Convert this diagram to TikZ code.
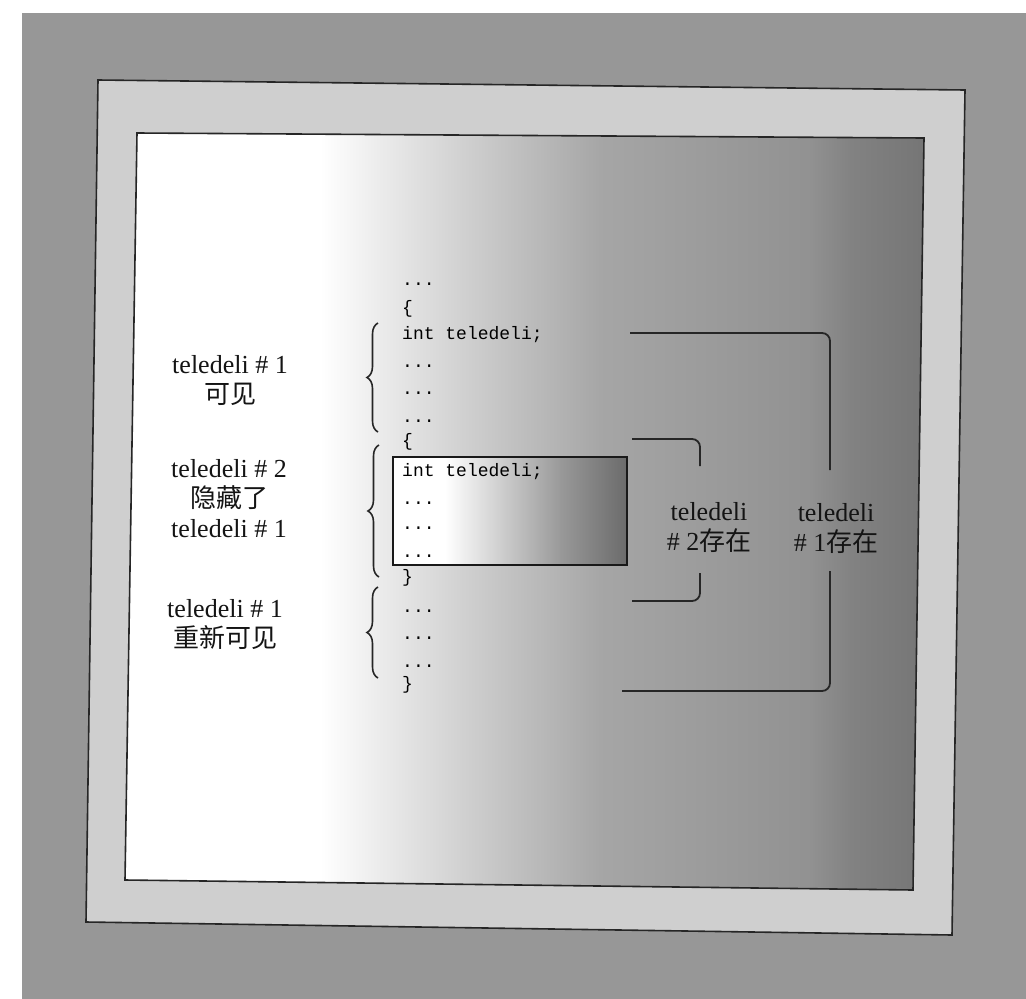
\documentclass[tikz,border=0pt]{standalone}
\usepackage{fontspec}
\setmainfont{Liberation Serif}
\setmonofont{Liberation Mono}
\newfontfamily\cjk{Noto Sans CJK SC}
\usetikzlibrary{decorations.pathreplacing}
\definecolor{outerbg}{HTML}{979797}
\definecolor{framebg}{HTML}{CFCFCF}
\tikzset{
  label/.style={font=\fontsize{26}{30}\selectfont, align=center, text=black!92, inner sep=0pt},
  code/.style={font=\ttfamily\fontsize{18}{20}\selectfont, anchor=base west, inner sep=0pt, text=black},
  bracebar/.style={decorate, decoration={brace, amplitude=11pt}, line width=1.6pt, black!85},
  bracket/.style={line width=1.8pt, rounded corners=8pt, black!85},
  edge/.style={line width=1.6pt, black!85},
}
\begin{document}
\begin{tikzpicture}[x=1pt,y=-1pt]
\useasboundingbox (0,0) rectangle (1026,999);
\fill[white] (0,0) rectangle (1026,999);
\fill[outerbg] (22,13) rectangle (1026,999);
% frame
\fill[framebg] (98,80) -- (965,90) -- (952,935) -- (86,922) -- cycle;
\draw[edge] (98,80) -- (965,90) -- (952,935) -- (86,922) -- cycle;
% inner panel with gradient
\begin{scope}
\clip (137,133) -- (924,138) -- (913,890) -- (125,880) -- cycle;
\fill[white] (110,120) rectangle (321,900);
\shade[left color=white, right color=black!18] (320,120) rectangle (461,900);
\shade[left color=black!18, right color=black!35] (460,120) rectangle (601,900);
\shade[left color=black!35, right color=black!43] (600,120) rectangle (811,900);
\shade[left color=black!43, right color=black!49] (810,120) rectangle (851,900);
\shade[left color=black!49, right color=black!55] (850,120) rectangle (940,900);
\end{scope}
\draw[edge] (137,133) -- (924,138) -- (913,890) -- (125,880) -- cycle;

% code box
\begin{scope}
\clip (393,457) rectangle (627,565);
\fill[white] (393,457) rectangle (446,565);
\shade[left color=white, right color=black!40] (445,457) rectangle (561,565);
\shade[left color=black!40, right color=black!58] (560,457) rectangle (627,565);
\end{scope}
\draw[line width=2pt, black!90] (393,457) rectangle (627,565);

% code lines
\node[code] (c1) at (402,285) {...};
\node[code] (c2) at (402,313) {\{};
\node[code] (c3) at (402,339) {int teledeli;};
\node[code] (c4) at (402,367) {...};
\node[code] (c5) at (402,394) {...};
\node[code] (c6) at (402,422) {...};
\node[code] (c7) at (402,446) {\{};
\node[code] (d1) at (402,476) {int teledeli;};
\node[code] (d2) at (402,504) {...};
\node[code] (d3) at (402,529) {...};
\node[code] (d4) at (402,557) {...};
\node[code] (d5) at (402,582) {\}};
\node[code] (e1) at (402,612) {...};
\node[code] (e2) at (402,639) {...};
\node[code] (e3) at (402,667) {...};
\node[code] (e4) at (402,689) {\}};

% left labels
\node[label] (l1) at (230,381) {teledeli \# 1\\{\cjk 可见}};
\node[label] (l2) at (229,499) {teledeli \# 2\\{\cjk 隐藏了}\\teledeli \# 1};
\node[label] (l3) at (225,625) {teledeli \# 1\\{\cjk 重新可见}};

% braces
\draw[bracebar] (378,432) -- (378,323);
\draw[bracebar] (379,577) -- (379,445);
\draw[bracebar] (378,678) -- (378,587);

% right labels
\node[label] (r2) at (709,527) {teledeli\\\# 2{\cjk 存在}};
\node[label] (r1) at (836,528) {teledeli\\\# 1{\cjk 存在}};

% right brackets
\coordinate (b2a) at (632,439);
\coordinate (b2b) at (700,466);
\coordinate (b2c) at (700,573);
\coordinate (b2d) at (632,601);
\draw[bracket] (b2a) -| (b2b);
\draw[bracket] (b2c) |- (b2d);
\coordinate (b1a) at (630,333);
\coordinate (b1b) at (830,470);
\coordinate (b1c) at (830,571);
\coordinate (b1d) at (622,691);
\draw[bracket] (b1a) -| (b1b);
\draw[bracket] (b1c) |- (b1d);
\end{tikzpicture}
\end{document}
